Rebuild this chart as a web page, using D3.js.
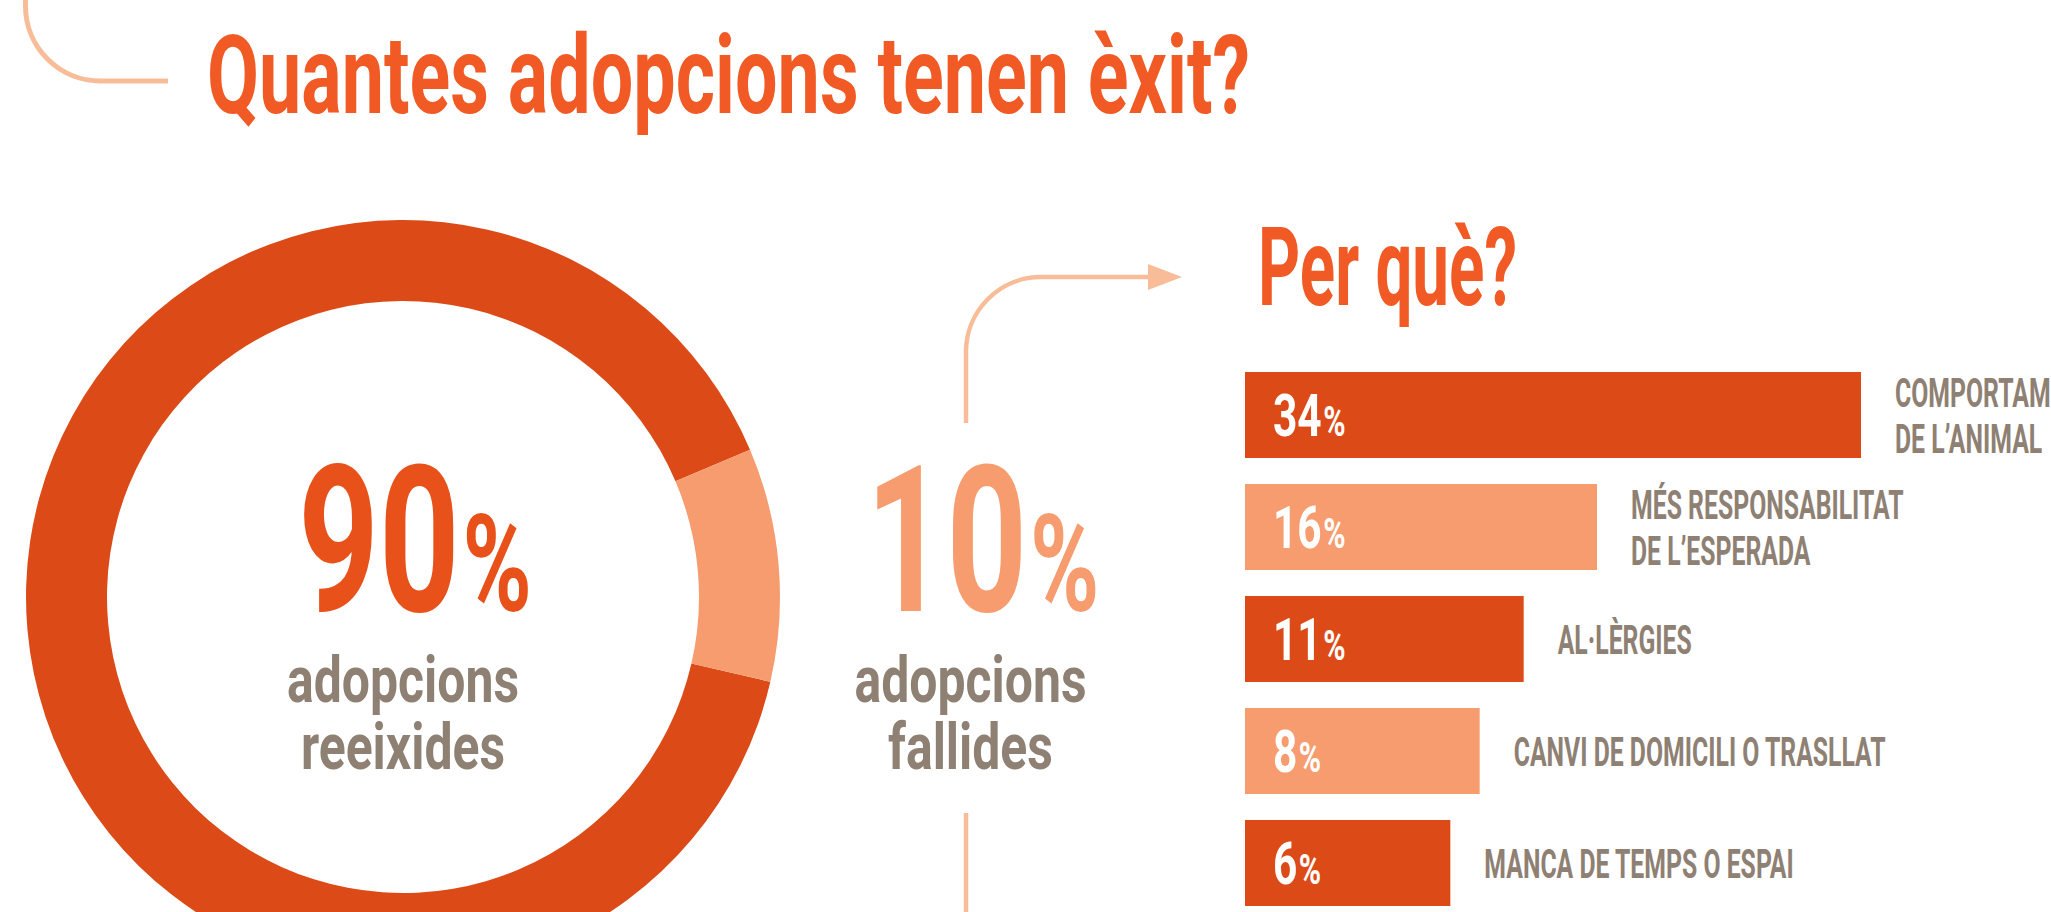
<!DOCTYPE html>
<html>
<head>
<meta charset="utf-8">
<script src="https://cdn.jsdelivr.net/npm/d3@7"></script>
<style>
  html, body { margin: 0; padding: 0; background: #fff; overflow: hidden; }
  svg { display: block; }
  text { font-family: Roboto, "Noto Sans", sans-serif; }
</style>
</head>
<body>
<svg id="viz" width="2051" height="912"></svg>
<script>
const title = "Quantes adopcions tenen èxit?";
const subtitle = "Per què?";
const outcomes = [["adopcions", "reeixides"], ["adopcions", "fallides"]];
const outcomeValues = [90, 10];
const reasons = [
  ["COMPORTAMENT", "DE L’ANIMAL"],
  ["MÉS RESPONSABILITAT", "DE L’ESPERADA"],
  ["AL·LÈRGIES"],
  ["CANVI DE DOMICILI O TRASLLAT"],
  ["MANCA DE TEMPS O ESPAI"]
];
const reasonValues = [34, 16, 11, 8, 6];

const dark = "#dc4a17", light = "#f69c6e", orange = "#f15a24",
      bigOrange = "#e9511a", grey = "#8e8073", guide = "#f9bc98";

const svg = d3.select("#viz");

// squeeze text horizontally, DIN-condensed look
function place(sel, x, y, k) {
  return sel.attr("x", 0).attr("y", 0)
    .attr("transform", `translate(${x},${y}) scale(${k},1)`);
}

// decorative corner + guide arrow
svg.append("path")
  .attr("d", "M25.5,-5 V6 A75,75 0 0 0 100.5,81 H168")
  .attr("fill", "none").attr("stroke", guide).attr("stroke-width", 5);

svg.append("path")
  .attr("d", "M966,423 V352 A75,75 0 0 1 1041,277 H1150")
  .attr("fill", "none").attr("stroke", guide).attr("stroke-width", 4.5);
svg.append("path")
  .attr("d", "M1148,264 L1182,277 L1148,290 Z")
  .attr("fill", guide);
svg.append("line")
  .attr("x1", 966).attr("x2", 966).attr("y1", 813).attr("y2", 930)
  .attr("stroke", guide).attr("stroke-width", 4.5);

// titles
svg.append("text")
  .attr("x", 207).attr("y", 113)
  .attr("font-size", 110).attr("font-weight", 700).attr("fill", orange)
  .attr("textLength", 1043).attr("lengthAdjust", "spacingAndGlyphs")
  .text(title);

svg.append("text")
  .attr("x", 1258).attr("y", 305)
  .attr("font-size", 110).attr("font-weight", 700).attr("fill", orange)
  .attr("textLength", 259).attr("lengthAdjust", "spacingAndGlyphs")
  .text(subtitle);

// donut
const cx = 403, cy = 597;
const pie = d3.pie().sort(null)
  .startAngle(103 * Math.PI / 180)
  .endAngle(463 * Math.PI / 180);
const arc = d3.arc().innerRadius(296).outerRadius(377);

svg.append("g")
  .attr("transform", `translate(${cx},${cy})`)
  .selectAll("path")
  .data(pie(outcomeValues))
  .join("path")
    .attr("d", arc)
    .attr("fill", (d, i) => i === 0 ? dark : light);

// big figures and their captions
const colX = [cx, 970.5];
const numCol = [bigOrange, light];

outcomeValues.forEach((v, i) => {
  const t = svg.append("text")
    .attr("text-anchor", "middle")
    .attr("font-weight", 700)
    .attr("fill", numCol[i]);
  place(t, colX[i] + 12, 611, 0.69);
  t.append("tspan").attr("font-size", 204).text(v);
  t.append("tspan").attr("font-size", 136).attr("dx", 4).text("%");

  outcomes[i].forEach((line, j) => {
    const c = svg.append("text")
      .attr("text-anchor", "middle")
      .attr("font-size", 64).attr("font-weight", 700)
      .attr("fill", grey)
      .text(line);
    place(c, colX[i], 702 + j * 67, 0.78);
  });
});

// reasons bar chart
const x0 = 1245;
const y = d3.scaleBand()
  .domain(reasons.map((d, i) => i))
  .range([372, 906])
  .paddingInner(0.232)
  .paddingOuter(0);
const x = d3.scaleLinear().domain([-8, 34]).range([0, 616]);
const w = v => x(v) - x(-8);

const bars = svg.append("g")
  .selectAll("g")
  .data(reasonValues)
  .join("g");

bars.append("rect")
  .attr("x", x0)
  .attr("y", (d, i) => y(i))
  .attr("width", d => w(d))
  .attr("height", y.bandwidth())
  .attr("fill", (d, i) => i % 2 ? light : dark);

bars.each(function(d, i) {
  const g = d3.select(this);
  const mid = y(i) + y.bandwidth() / 2;

  const p = g.append("text").attr("font-weight", 700).attr("fill", "#fff");
  place(p, x0 + 28, mid + 21, 0.72);
  p.append("tspan").attr("font-size", 59).text(d);
  p.append("tspan").attr("font-size", 42).attr("dx", 2).text("%");

  const lines = reasons[i];
  lines.forEach((line, j) => {
    const t = g.append("text")
      .attr("font-size", 40).attr("font-weight", 700)
      .attr("fill", grey)
      .text(line);
    place(t, x0 + w(d) + 34, mid + 15 + (j - (lines.length - 1) / 2) * 46, 0.62);
  });
});
</script>
</body>
</html>
